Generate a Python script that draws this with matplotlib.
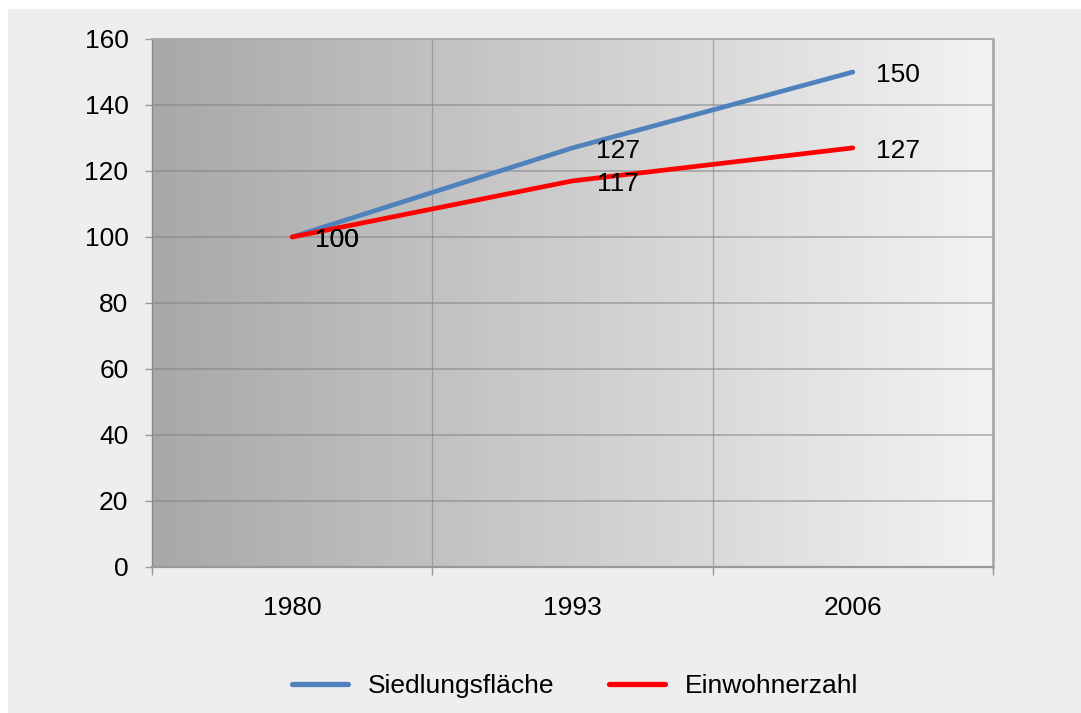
import matplotlib
matplotlib.use("Agg")
import matplotlib.pyplot as plt
import numpy as np
from matplotlib.patches import Rectangle

years = ["1980", "1993", "2006"]
siedlung = [100, 127, 150]
einwohner = [100, 117, 127]
series_names = ["Siedlungsfläche", "Einwohnerzahl"]
y_ticks = [0, 20, 40, 60, 80, 100, 120, 140, 160]

plt.rcParams['font.family'] = ['Liberation Sans', 'DejaVu Sans']
FS = 19

fig = plt.figure(figsize=(10.81, 7.13), dpi=100, facecolor='white')
fig.patches.append(Rectangle((8/1081, 0), 1, 1 - 9/713, transform=fig.transFigure,
                             facecolor='#eeeeee', edgecolor='none', zorder=-10))

ax = fig.add_axes([152/1081, (713-567)/713, (993-152)/1081, (567-39)/713])
ax.set_facecolor('none')

# gradient background
grad = np.linspace(0, 1, 256)
c0, c1 = 168/255, 243/255
vals = c0 + (c1 - c0) * grad
img = np.dstack([vals, vals, vals]).repeat(2, axis=0)
ax.imshow(img, extent=[0, 1, 0, 1], transform=ax.transAxes, aspect='auto', zorder=0)

x = np.arange(len(years))
ax.set_xlim(-0.5, len(years) - 0.5)
ax.set_ylim(0, 160)

# gridlines
for yv in y_ticks[1:]:
    ax.axhline(yv, color='#808080', alpha=0.5, lw=1.4, zorder=1)
for xv in [0.5, 1.5]:
    ax.axvline(xv, color='#808080', alpha=0.6, lw=0.9, zorder=1)

ax.plot(x, siedlung, color='#4f81bd', lw=3.4, solid_capstyle='round', zorder=3, label=series_names[0])
ax.plot(x, einwohner, color='#ff0000', lw=3.4, solid_capstyle='round', zorder=4, label=series_names[1])

for xi, v in zip(x, siedlung):
    ax.annotate(str(v), (xi, v), xytext=(32.5, -2.5), textcoords='offset points',
                ha='center', va='center', fontsize=FS, color='black', zorder=5)
for xi, v in zip(x, einwohner):
    ax.annotate(str(v), (xi, v), xytext=(32.5, -2.5), textcoords='offset points',
                ha='center', va='center', fontsize=FS, color='black', zorder=5)

ax.set_yticks(y_ticks)
ax.set_yticklabels([str(t) for t in y_ticks], fontsize=FS)
ax.tick_params(axis='y', direction='out', length=5, width=1, color='#999999', pad=12)
ax.set_xticks(x)
ax.set_xticklabels(years, fontsize=FS)
ax.set_xticks([-0.5, 0.5, 1.5, 2.5], minor=True)
ax.tick_params(axis='x', which='major', length=0, pad=21)
ax.tick_params(axis='x', which='minor', direction='out', length=6, width=1, color='#999999')

ax.spines['left'].set_color('#888888')
ax.spines['left'].set_linewidth(1)
ax.spines['bottom'].set_color('#999999')
ax.spines['bottom'].set_linewidth(1.6)
ax.spines['right'].set_color('#aaaaaa')
ax.spines['right'].set_linewidth(2)
ax.spines['top'].set_color('#aaaaaa')
ax.spines['top'].set_linewidth(1.4)
for s in ax.spines.values():
    s.set_zorder(6)

leg = fig.legend(loc='center', bbox_to_anchor=(575/1081, 1 - 686/713), ncol=2,
                 frameon=False, fontsize=FS, handlelength=2.1, handletextpad=0.75,
                 columnspacing=2.1)
for line in leg.get_lines():
    line.set_linewidth(3.8)

fig.savefig('out.png', dpi=100, facecolor=fig.get_facecolor())
